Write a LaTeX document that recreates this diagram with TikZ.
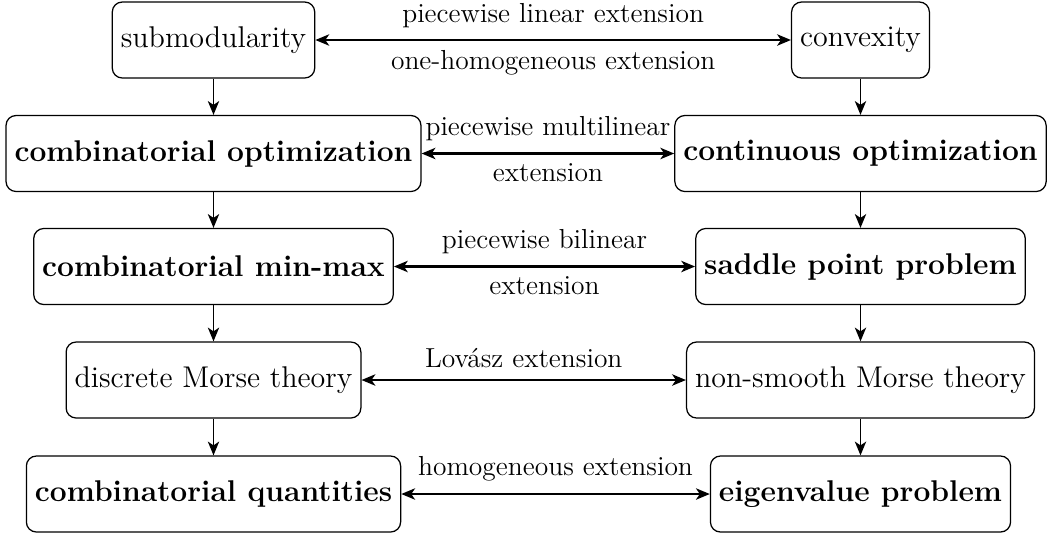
\documentclass[tikz,border=0pt]{standalone}
\usetikzlibrary{arrows.meta}
\begin{document}
\begin{tikzpicture}[x=0.4pt,y=-0.4pt,
  box/.style={draw, rounded corners=4pt, inner xsep=3.4pt, minimum height=30.4pt, font=\fontsize{12}{14}\selectfont, line width=0.5pt},
  lbl/.style={font=\fontsize{11}{13}\selectfont, inner sep=1pt},
  tip/.style={Stealth[length=5.5pt,width=4.5pt,inset=1.5pt]},
  varrow/.style={-{Stealth[length=5.5pt,width=4.5pt,inset=1.5pt]}, line width=0.7pt},
  harrow/.style={{Stealth[length=5.5pt,width=4.5pt,inset=1.5pt]}-{Stealth[length=5.5pt,width=4.5pt,inset=1.5pt]}, line width=1pt}]
\useasboundingbox (0,0) rectangle (1047,536);
% left column
\node[box] (sub) at (213.5,40) {submodularity};
\node[box] (cop) at (213.5,153.5) {\bfseries combinatorial optimization};
\node[box] (cmm) at (213.5,266.5) {\bfseries combinatorial min-max};
\node[box] (dmt) at (213.5,380) {discrete Morse theory};
\node[box] (cq) at (213.5,494) {\bfseries combinatorial quantities};
% right column
\node[box] (cvx) at (860.5,40) {convexity};
\node[box] (con) at (860.5,153.5) {\bfseries continuous optimization};
\node[box] (spp) at (860.5,266.5) {\bfseries saddle point problem};
\node[box] (nsm) at (860.5,380) {non-smooth Morse theory};
\node[box] (eig) at (860.5,494) {\bfseries eigenvalue problem};
% vertical arrows
\draw[varrow] (sub) -- (cop);
\draw[varrow] (cop) -- (cmm);
\draw[varrow] (cmm) -- (dmt);
\draw[varrow] (dmt) -- (cq);
\draw[varrow] (cvx) -- (con);
\draw[varrow] (con) -- (spp);
\draw[varrow] (spp) -- (nsm);
\draw[varrow] (nsm) -- (eig);
% horizontal arrows
\draw[harrow] (sub) -- node[lbl, above=3.5pt] {piecewise linear extension} node[lbl, below=2.5pt] {one-homogeneous extension} (cvx);
\draw[harrow] (cop) -- node[lbl, above=3.5pt] {piecewise multilinear} node[lbl, below=2.5pt] {extension} (con);
\draw[harrow] (cmm) -- node[lbl, above=3.5pt] {piecewise bilinear} node[lbl, below=2.5pt] {extension} (spp);
\draw[harrow] (dmt) -- node[lbl, above=3.5pt] {Lov\'asz extension} (nsm);
\draw[harrow] (cq) -- node[lbl, above=3.5pt] {homogeneous extension} (eig);
\end{tikzpicture}
\end{document}
